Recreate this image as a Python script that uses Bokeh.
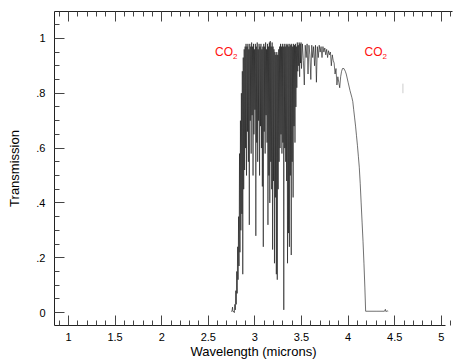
from bokeh.plotting import figure
from bokeh.models import FixedTicker, LinearAxis, Range1d
from bokeh.core.properties import value
from bokeh.embed import file_html
from bokeh.resources import INLINE

# ---- data ----
wl_dense = [
    2.745, 2.755, 2.760, 2.765, 2.775,
    2.780, 2.785, 2.790, 2.795, 2.800, 2.805, 2.810, 2.815, 2.820, 2.825,
    2.830, 2.835, 2.840, 2.845, 2.850, 2.855, 2.860, 2.865, 2.870, 2.875,
    2.880, 2.885, 2.890, 2.895, 2.900, 2.905, 2.910, 2.915, 2.920, 2.925,
    2.930, 2.935, 2.940, 2.945, 2.950, 2.955, 2.960, 2.965, 2.970, 2.975,
    2.980, 2.985, 2.990, 2.995, 3.000, 3.005, 3.010, 3.015, 3.020, 3.025,
    3.030, 3.035, 3.040, 3.045, 3.050, 3.055, 3.060, 3.065, 3.070, 3.075,
    3.080, 3.085, 3.090, 3.095, 3.100, 3.105, 3.110, 3.115, 3.120, 3.125,
    3.130, 3.135, 3.140, 3.145, 3.150, 3.155, 3.160, 3.165, 3.170, 3.175,
    3.180, 3.185, 3.190, 3.195, 3.200, 3.205, 3.210, 3.215, 3.220, 3.225,
    3.230, 3.235, 3.240, 3.245, 3.250, 3.255, 3.260, 3.265, 3.270, 3.275,
    3.280, 3.285, 3.290, 3.295, 3.300, 3.305, 3.310, 3.315, 3.320, 3.325,
    3.330, 3.335, 3.340, 3.345, 3.350, 3.355, 3.360, 3.365, 3.370, 3.375,
    3.380, 3.385, 3.390, 3.395, 3.400, 3.405, 3.410, 3.415, 3.420, 3.425,
    3.430, 3.435, 3.440, 3.445, 3.450, 3.455, 3.460, 3.465, 3.470, 3.475,
    3.480, 3.485, 3.490, 3.495, 3.500,
]
tr_dense = [
    0.004, 0.006, 0.020, 0.003, 0.004,
    0.00, 0.03, 0.01, 0.08, 0.03, 0.15, 0.07, 0.24, 0.12, 0.35,
    0.17, 0.58, 0.22, 0.70, 0.30, 0.80, 0.36, 0.88, 0.14, 0.93,
    0.45, 0.96, 0.52, 0.97, 0.60, 0.98, 0.50, 0.97, 0.66, 0.98,
    0.55, 0.96, 0.32, 0.98, 0.70, 0.97, 0.58, 0.985, 0.72, 0.97,
    0.50, 0.98, 0.65, 0.96, 0.74, 0.98, 0.28, 0.97, 0.62, 0.985,
    0.55, 0.96, 0.70, 0.98, 0.50, 0.97, 0.68, 0.98, 0.60, 0.96,
    0.46, 0.97, 0.24, 0.98, 0.66, 0.97, 0.58, 0.985, 0.72, 0.96,
    0.62, 0.98, 0.32, 0.97, 0.50, 0.985, 0.40, 0.99, 0.55, 0.97,
    0.45, 0.985, 0.23, 0.97, 0.48, 0.96, 0.18, 0.95, 0.42, 0.94,
    0.14, 0.95, 0.12, 0.94, 0.45, 0.96, 0.55, 0.97, 0.60, 0.98,
    0.65, 0.97, 0.58, 0.98, 0.62, 0.97, 0.01, 0.98, 0.60, 0.97,
    0.55, 0.98, 0.48, 0.975, 0.18, 0.98, 0.29, 0.97, 0.24, 0.98,
    0.50, 0.975, 0.21, 0.98, 0.55, 0.97, 0.42, 0.98, 0.68, 0.975,
    0.62, 0.98, 0.75, 0.97, 0.82, 0.985, 0.88, 0.975, 0.90, 0.985,
    0.86, 0.98, 0.91, 0.985, 0.89,
]
wl_tail = [
    3.51, 3.52, 3.53, 3.54, 3.55, 3.56, 3.57, 3.58, 3.59, 3.60,
    3.61, 3.62, 3.63, 3.64, 3.65, 3.66, 3.67, 3.68, 3.69, 3.70,
    3.71, 3.72, 3.73, 3.74, 3.75, 3.76, 3.77, 3.78, 3.79, 3.80,
    3.81, 3.82, 3.83, 3.84, 3.85, 3.86, 3.87, 3.88, 3.89, 3.90,
    3.91, 3.92, 3.93, 3.94, 3.955, 3.97, 3.98, 4.00, 4.02, 4.04,
    4.05, 4.06, 4.07, 4.08, 4.09, 4.10, 4.11, 4.12, 4.13, 4.14,
    4.15, 4.16, 4.17, 4.18, 4.188, 4.30, 4.39, 4.40, 4.405, 4.42, 4.43,
]
tr_tail = [
    0.98, 0.92, 0.83, 0.975, 0.93, 0.98, 0.87, 0.975, 0.94, 0.85,
    0.975, 0.93, 0.97, 0.90, 0.975, 0.84, 0.97, 0.93, 0.975, 0.95,
    0.97, 0.93, 0.97, 0.95, 0.965, 0.94, 0.96, 0.93, 0.955, 0.94,
    0.95, 0.90, 0.94, 0.92, 0.91, 0.87, 0.89, 0.83, 0.86, 0.84,
    0.82, 0.86, 0.88, 0.89, 0.89, 0.88, 0.87, 0.84, 0.81, 0.785,
    0.77, 0.74, 0.71, 0.68, 0.645, 0.61, 0.57, 0.53, 0.47, 0.40,
    0.33, 0.26, 0.18, 0.09, 0.005, 0.005, 0.005, 0.012, 0.004, 0.006, 0.005,
]
wavelength = wl_dense + wl_tail
transmission = tr_dense + tr_tail

stray_wl = [4.588, 4.588]
stray_tr = [0.835, 0.80]

x_ticks = [1, 1.5, 2, 2.5, 3, 3.5, 4, 4.5, 5]
x_tick_labels = ["1", "1.5", "2", "2.5", "3", "3.5", "4", "4.5", "5"]
x_minor = [0.9, 1.1, 1.2, 1.3, 1.4, 1.6, 1.7, 1.8, 1.9, 2.1, 2.2, 2.3, 2.4,
           2.6, 2.7, 2.8, 2.9, 3.1, 3.2, 3.3, 3.4, 3.6, 3.7, 3.8, 3.9,
           4.1, 4.2, 4.3, 4.4, 4.6, 4.7, 4.8, 4.9, 5.1]
y_ticks = [0, 0.2, 0.4, 0.6, 0.8, 1.0]
y_tick_labels = ["0", ".2", ".4", ".6", ".8", "1"]
y_minor = [0.05, 0.1, 0.15, 0.25, 0.3, 0.35, 0.45, 0.5, 0.55, 0.65, 0.7,
           0.75, 0.85, 0.9, 0.95, 1.05]

label_x = [2.572, 4.176]
label_y = [0.952, 0.952]
label_main = ["CO", "CO"]
label_sub = ["2", "2"]

FONT = "Liberation Sans"

p = figure(width=471, height=362, output_backend="svg", toolbar_location=None,
           x_range=Range1d(0.85, 5.12), y_range=Range1d(-0.047, 1.098),
           x_axis_location=None, y_axis_location=None)
p.min_border_left = 54
p.min_border_right = 19
p.min_border_top = 11
p.min_border_bottom = 37
p.outline_line_color = None
p.xgrid.visible = False
p.ygrid.visible = False
p.background_fill_color = "white"
p.border_fill_color = "white"


def style_axis(ax, ticks, minor, labels):
    ax.ticker = FixedTicker(ticks=ticks, minor_ticks=minor)
    ax.major_label_overrides = {t: l for t, l in zip(ticks, labels)}
    ax.major_tick_in = 10
    ax.major_tick_out = 0
    ax.minor_tick_in = 5
    ax.minor_tick_out = 0
    ax.axis_line_color = "#222222"
    ax.major_tick_line_color = "#444444"
    ax.minor_tick_line_color = "#444444"
    ax.major_label_text_font = FONT
    ax.major_label_text_font_size = "11px"
    ax.major_label_text_color = "black"
    ax.axis_label_text_font = FONT
    ax.axis_label_text_font_style = "normal"
    ax.axis_label_text_font_size = "13px"
    ax.axis_label_text_color = "black"


xb = LinearAxis(axis_label="Wavelength (microns)")
style_axis(xb, x_ticks, x_minor, x_tick_labels)
xb.bounds = (0.85, 5.04)
xb.major_label_standoff = 7
xb.axis_label_standoff = 0
p.add_layout(xb, "below")

xt = LinearAxis()
style_axis(xt, x_ticks, x_minor, ["" for _ in x_ticks])
xt.major_label_standoff = 0
p.add_layout(xt, "above")

yl = LinearAxis(axis_label="Transmission")
style_axis(yl, y_ticks, y_minor, y_tick_labels)
yl.major_label_standoff = 9
yl.axis_label_standoff = 11
p.add_layout(yl, "left")

p.line(wavelength, transmission, line_color="#111111", line_width=0.6)
p.line(stray_wl, stray_tr, line_color="#cccccc", line_width=1)

p.text(x=label_x, y=label_y, text=label_main, text_color="#ff1010",
       text_font=value(FONT), text_font_size="12px",
       text_baseline="middle", text_align="left")
p.text(x=label_x, y=label_y, text=label_sub, text_color="#ff1010",
       text_font=value(FONT), text_font_size="8px", x_offset=18, y_offset=5,
       text_baseline="middle", text_align="left")

open("out.html", "w").write(file_html(p, INLINE))
